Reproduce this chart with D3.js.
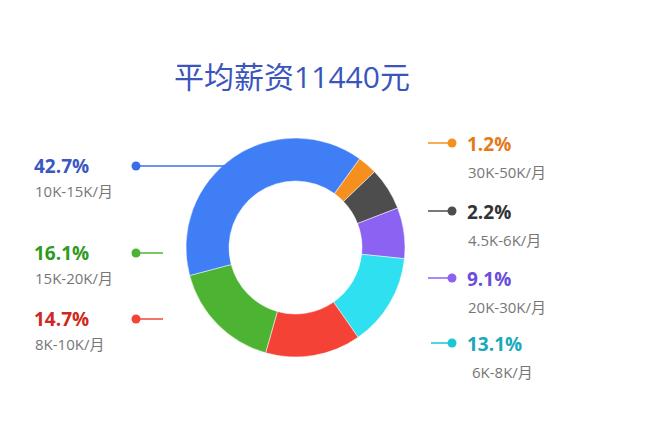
<!DOCTYPE html>
<html>
<head>
<meta charset="utf-8">
<script src="https://cdn.jsdelivr.net/npm/d3@7/dist/d3.min.js"></script>
<style>
  body { margin: 0; background: #fff; }
  svg text { font-family: "Open Sans", "Noto Sans CJK SC", sans-serif; }
</style>
</head>
<body>
<svg id="chart" width="652" height="427"></svg>
<script>
// slices listed clockwise, starting at the orange one
const categories = ["30K-50K/月", "4.5K-6K/月", "20K-30K/月", "6K-8K/月", "8K-10K/月", "15K-20K/月", "10K-15K/月"];
const pctLabels = ["1.2%", "2.2%", "9.1%", "13.1%", "14.7%", "16.1%", "42.7%"];
// share of the ring as drawn in the picture
const sliceShares = [2.9, 6.3, 7.5, 13.7, 14.1, 16.5, 39.1];
const title = "平均薪资11440元";

const sliceColors = ["#f5901e", "#4d4d4d", "#8c62f2", "#2fe0f0", "#f44336", "#4db433", "#3f7ef5"];
const textColors = ["#e57a1a", "#333333", "#6a4dd8", "#1aa9b8", "#d0281c", "#2e9a1e", "#3a57c4"];

// label layout: side and y of the leader line
const labelLayout = [
    {side: "right", y: 143},
    {side: "right", y: 211},
    {side: "right", y: 278},
    {side: "right", y: 343},
    {side: "left", y: 319},
    {side: "left", y: 253},
    {side: "left", y: 166}
];

const svg = d3.select("#chart");
const cx = 295.5, cy = 247.5;
const outerR = 109.5, innerR = 66.5;

svg.append("text")
    .attr("x", 292)
    .attr("y", 88)
    .attr("text-anchor", "middle")
    .attr("font-size", 30)
    .attr("fill", "#3b55bd")
    .text(title);

const start = 35.8 * Math.PI / 180;
const pie = d3.pie().sort(null).value(d => d).startAngle(start).endAngle(start + 2 * Math.PI);
const arc = d3.arc().innerRadius(innerR).outerRadius(outerR);

const g = svg.append("g").attr("transform", "translate(" + cx + "," + cy + ")");
g.selectAll("path")
    .data(pie(sliceShares))
    .enter()
    .append("path")
    .attr("d", arc)
    .attr("fill", (d, i) => sliceColors[i])
    .attr("stroke", "#fff")
    .attr("stroke-width", 0.5);

// leader lines and labels
categories.forEach(function (cat, i) {
    let lay = labelLayout[i];
    let col = sliceColors[i];
    let lineCol = i == 3 ? "#19c6d6" : (i == 6 ? "#3a6ee8" : col);
    if (lay.side == "left") {
        // blue one runs to the ring, others are stubs
        let x2 = i == 6 ? cx - Math.sqrt(outerR * outerR - (lay.y - cy) * (lay.y - cy)) + 2 : 163;
        svg.append("line")
            .attr("x1", 136).attr("x2", x2)
            .attr("y1", lay.y).attr("y2", lay.y)
            .attr("stroke", lineCol).attr("stroke-width", 1.5);
        svg.append("circle")
            .attr("cx", 136).attr("cy", lay.y).attr("r", 4.5)
            .attr("fill", lineCol);
        svg.append("text")
            .attr("x", 34).attr("y", lay.y + 7)
            .attr("font-size", 19).attr("font-weight", "bold")
            .attr("fill", textColors[i])
            .text(pctLabels[i]);
        svg.append("text")
            .attr("x", 35).attr("y", lay.y + 31)
            .attr("font-size", 15)
            .attr("fill", "#777")
            .text(cat);
    } else {
        svg.append("line")
            .attr("x1", i == 3 ? 431 : 428).attr("x2", 452)
            .attr("y1", lay.y).attr("y2", lay.y)
            .attr("stroke", lineCol).attr("stroke-width", 1.5);
        svg.append("circle")
            .attr("cx", 452).attr("cy", lay.y).attr("r", 4.5)
            .attr("fill", lineCol);
        svg.append("text")
            .attr("x", 467).attr("y", lay.y + 8)
            .attr("font-size", 19).attr("font-weight", "bold")
            .attr("fill", textColors[i])
            .text(pctLabels[i]);
        svg.append("text")
            .attr("x", i == 3 ? 472 : 468).attr("y", lay.y + 35)
            .attr("font-size", 15)
            .attr("fill", "#777")
            .text(cat);
    }
});
</script>
</body>
</html>
